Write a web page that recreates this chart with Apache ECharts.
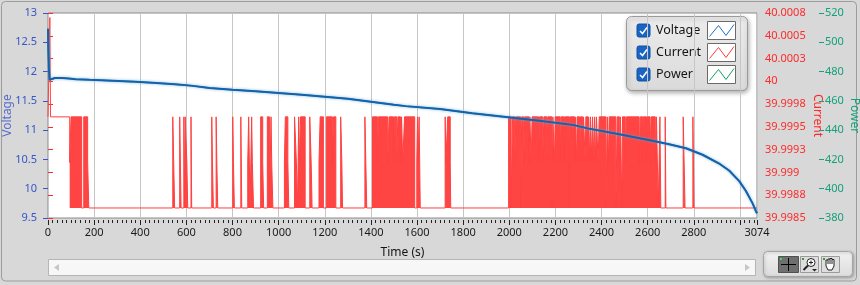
<!DOCTYPE html>
<html><head><meta charset="utf-8">
<script src="https://cdn.jsdelivr.net/npm/echarts@6/dist/echarts.min.js"></script>
<style>html,body{margin:0;padding:0;background:#ececec;}#c{width:860px;height:285px;}</style>
</head><body><div id="c"></div>
<script>
// ---------- data ----------
const timeMax = 3074;
const xTickLabels = [0,200,400,600,800,1000,1200,1400,1600,1800,2000,2200,2400,2600,2800,3074];
const voltageTickLabels = ['9.5','10','10.5','11','11.5','12','12.5','13'];
const currentTickLabels = ['39.9985','39.9988','39.999','39.9993','39.9995','39.9998','40','40.0003','40.0005','40.0008'];
const powerTickLabels = ['380','400','420','440','460','480','500','520'];

const voltageTime = [0,1,4,7,10,14,30,60,90,120,180,280,380,470,550,620,700,800,900,1000,1100,1200,1300,1400,1500,1551,1700,1840,1985,2130,2275,2340,2477,2620,2693,2766,2838,2910,2953,2997,3026,3055,3069,3074];
const voltage = [12.73,12.45,12.05,11.86,11.845,11.875,11.89,11.89,11.88,11.87,11.86,11.845,11.825,11.805,11.785,11.76,11.72,11.69,11.665,11.635,11.605,11.57,11.535,11.485,11.435,11.41,11.36,11.29,11.225,11.16,11.09,11.03,10.93,10.82,10.76,10.69,10.58,10.43,10.31,10.13,9.96,9.75,9.62,9.58];
const power = [509.2,498,482,474.4,473.8,475,475.6,475.6,475.2,474.8,474.4,473.8,473,472.2,471.4,470.4,468.8,467.6,466.6,465.4,464.2,462.8,461.4,459.4,457.4,456.4,454.4,451.6,449,446.4,443.6,441.2,437.2,432.8,430.4,427.6,423.2,417.2,412.4,405.2,398.4,390,384.8,383.2];

// current levels (A) and the time segments [start, end, level] where the current leaves the low level
const currentLow = 39.99861, currentMid = 39.99911, currentHigh = 39.99961, currentSpike = 40.0007;
const currentStart = [[0,8,'H'],[8,11,'S'],[11,94,'H']];
const currentSegments = [
[94,100,'M'],[100,146,'H'],[155,172,'H'],[172,177,'M'],
[541,545,'H'],[545,549,'M'],[571,577,'H'],[589,592,'H'],[595,602,'H'],[602,606,'M'],[620,623,'H'],
[710,713,'H'],[713,717,'M'],[729,732,'H'],[732,736,'M'],
[801,804,'H'],[804,808,'M'],[836,840,'H'],[866,870,'M'],[870,876,'H'],[883,886,'H'],[886,891,'M'],
[922,931,'H'],[931,935,'M'],[951,960,'H'],[967,970,'H'],[970,975,'M'],
[1025,1029,'M'],[1029,1040,'H'],[1040,1044,'M'],[1069,1077,'H'],[1077,1082,'M'],
[1087,1090,'H'],[1090,1095,'M'],[1095,1115,'H'],[1135,1141,'H'],[1141,1145,'M'],
[1175,1180,'M'],[1180,1194,'H'],[1207,1233,'H'],[1233,1238,'M'],[1238,1248,'H'],
[1269,1274,'H'],[1274,1277,'M'],[1374,1378,'H'],[1378,1382,'M'],
[1407,1428,'H'],[1428,1433,'M'],[1433,1473,'H'],[1473,1479,'M'],[1479,1498,'H'],[1498,1502,'M'],
[1502,1512,'H'],[1512,1517,'M'],[1517,1528,'H'],[1528,1533,'M'],[1533,1538,'H'],[1538,1546,'M'],[1546,1590,'H'],
[1599,1602,'M'],[1602,1605,'H'],[1605,1609,'M'],[1609,1614,'H'],
[1722,1725,'H'],[1725,1733,'M'],[1733,1744,'H'],[1744,1746,'M'],
[1997,2008,'H'],[2014,2024,'H'],[2024,2028,'M'],[2028,2049,'H'],[2054,2063,'H'],[2063,2067,'M'],[2067,2086,'H'],
[2086,2089,'M'],[2089,2095,'H'],[2095,2099,'M'],[2099,2127,'H'],[2127,2131,'M'],[2131,2145,'H'],[2145,2150,'M'],
[2150,2163,'H'],[2163,2167,'M'],[2167,2185,'H'],[2189,2196,'H'],[2196,2199,'M'],[2199,2221,'H'],[2221,2225,'M'],
[2225,2239,'H'],[2239,2242,'M'],[2242,2260,'H'],[2263,2283,'H'],[2283,2286,'M'],[2286,2292,'H'],[2292,2294,'M'],
[2294,2305,'H'],[2305,2309,'M'],[2309,2318,'H'],[2318,2322,'M'],[2322,2329,'H'],[2329,2332,'M'],[2332,2341,'H'],
[2341,2344,'M'],[2344,2349,'H'],[2349,2352,'M'],[2352,2358,'H'],[2358,2361,'M'],[2361,2367,'H'],[2367,2370,'M'],
[2370,2375,'H'],[2375,2378,'M'],[2378,2385,'H'],[2385,2390,'M'],[2390,2419,'H'],[2425,2430,'H'],[2430,2433,'M'],
[2433,2462,'H'],[2468,2477,'H'],[2477,2482,'M'],[2482,2488,'H'],[2491,2503,'H'],[2503,2508,'M'],[2508,2563,'H'],
[2563,2568,'M'],[2568,2578,'H'],[2578,2581,'M'],[2581,2595,'H'],[2595,2599,'M'],[2599,2610,'H'],[2610,2615,'M'],
[2615,2633,'H'],[2633,2638,'M'],[2638,2646,'H'],[2653,2657,'H'],[2676,2679,'H'],[2754,2762,'H'],[2796,2801,'H']
];

// ---------- build ----------
const levelOf = {H: currentHigh, M: currentMid, S: currentSpike};
function buildSteps(segs, endLow) {
  const pts = [];
  let prevEnd = null;
  segs.forEach(s => {
    if (prevEnd !== null && s[0] > prevEnd) pts.push([prevEnd, currentLow]);
    pts.push([s[0], levelOf[s[2]]]);
    prevEnd = s[1];
  });
  pts.push([prevEnd, currentLow]);
  if (endLow) pts.push([timeMax, currentLow]);
  return pts;
}
const currentLine = buildSteps(currentStart.concat(currentSegments), true);
const currentFill = buildSteps(currentSegments, false);
const voltageData = voltageTime.map((t, i) => [t, voltage[i]]);
const powerData = voltageTime.map((t, i) => [t, power[i]]);

const FONT = "'Noto Sans', Roboto, sans-serif";
const cVolt = '#3556c8', cCur = '#ff2a2a', cPow = '#14a07a';
const currentMin = 39.9985, currentStep = 0.00025;

const chart = echarts.init(document.getElementById('c'), null, {renderer: 'canvas'});

function grad(c0, c1) {
  return {type:'linear', x:0, y:0, x2:0, y2:1, colorStops:[{offset:0,color:c0},{offset:1,color:c1}]};
}

function legendRow(cy, label, color) {
  return [
    {type:'rect', shape:{x:637, y:cy-6.5, width:13, height:13, r:2}, style:{fill:'#1a64c4', stroke:'#1150a0', lineWidth:1}},
    {type:'polyline', shape:{points:[[640,cy+0.5],[642.5,cy+3],[647,cy-3]]}, style:{stroke:'#fff', lineWidth:1.5, fill:null}},
    {type:'text', x:656, y:cy, style:{text:label, fill:'#141414', font:"12.5px "+FONT, verticalAlign:'middle'}},
    {type:'rect', shape:{x:707.5, y:cy-9, width:28, height:18}, style:{fill:'#fff', stroke:'#6a6a6a', lineWidth:1}},
    {type:'polyline', shape:{points:[[709.5,cy+6],[718.5,cy-5],[726,cy+5],[734,cy-6]]}, style:{stroke:color, lineWidth:1, fill:null}}
  ];
}

const graphics = [
  {type:'rect', shape:{x:1.5, y:1.5, width:855, height:279.5, r:4}, style:{fill:null, stroke:'#9c9c9c', lineWidth:1}},
  // legend
  {type:'rect', shape:{x:626.5, y:16.5, width:121, height:74, r:5},
   style:{fill:grad('#ececec','#dadada'), stroke:'#9a9a9a', lineWidth:1,
          shadowBlur:4, shadowOffsetX:1, shadowOffsetY:2, shadowColor:'rgba(0,0,0,0.3)'}},
  ...legendRow(30.5, 'Voltage', '#1f6fc0'),
  ...legendRow(52.5, 'Current', '#ff3b3b'),
  ...legendRow(74.5, 'Power', '#10a060'),
  // scrollbar
  {type:'rect', shape:{x:48.5, y:259.5, width:707, height:16}, style:{fill:'#f7f7f7', stroke:'#b5b5b5', lineWidth:1}},
  {type:'polygon', shape:{points:[[54,267.5],[59,264],[59,271]]}, style:{fill:'#c6c6c6'}},
  {type:'polygon', shape:{points:[[750,267.5],[745,264],[745,271]]}, style:{fill:'#c6c6c6'}},
  // toolbar
  {type:'rect', shape:{x:763.5, y:251.5, width:89, height:25, r:4},
   style:{fill:grad('#f2f2f2','#dcdcdc'), stroke:'#a5a5a5', lineWidth:1,
          shadowBlur:3, shadowOffsetX:1, shadowOffsetY:1, shadowColor:'rgba(0,0,0,0.25)'}},
  {type:'rect', shape:{x:778.5, y:256.5, width:20, height:16}, style:{fill:'#6f6f6f', stroke:'#505050', lineWidth:1}},
  {type:'line', shape:{x1:781, y1:264.5, x2:796, y2:264.5}, style:{stroke:'#000', lineWidth:1}},
  {type:'line', shape:{x1:788.5, y1:258, x2:788.5, y2:271}, style:{stroke:'#000', lineWidth:1}},
  {type:'rect', shape:{x:780, y:258, width:2, height:2}, style:{fill:'#3ee03e'}},
  {type:'rect', shape:{x:800.5, y:256.5, width:18, height:16}, style:{fill:'#dedede', stroke:'#9a9a9a', lineWidth:1}},
  {type:'circle', shape:{cx:811, cy:262.5, r:4}, style:{fill:'#fff', stroke:'#222', lineWidth:1}},
  {type:'line', shape:{x1:808, y1:265.5, x2:803.5, y2:270}, style:{stroke:'#222', lineWidth:2}},
  {type:'line', shape:{x1:809, y1:262.5, x2:813, y2:262.5}, style:{stroke:'#222', lineWidth:1}},
  {type:'line', shape:{x1:811, y1:260.5, x2:811, y2:264.5}, style:{stroke:'#222', lineWidth:1}},
  {type:'polygon', shape:{points:[[812,269],[817,269],[814.5,271.5]]}, style:{fill:'#222'}},
  {type:'rect', shape:{x:802, y:258, width:2, height:2}, style:{fill:'#3a9a3a'}},
  {type:'rect', shape:{x:821.5, y:256.5, width:18, height:16}, style:{fill:'#dedede', stroke:'#9a9a9a', lineWidth:1}},
  {type:'polygon', shape:{points:[[826,266],[826,260],[828,260],[828,259],[830,259],[830,258.5],[832,258.5],[832,259.5],[834,259.5],[834,266],[832,270],[828,270]]},
   style:{fill:'#fff', stroke:'#222', lineWidth:1}},
  {type:'line', shape:{x1:828, y1:260, x2:828, y2:264}, style:{stroke:'#222', lineWidth:1}},
  {type:'line', shape:{x1:830, y1:259, x2:830, y2:264}, style:{stroke:'#222', lineWidth:1}},
  {type:'line', shape:{x1:832, y1:259.5, x2:832, y2:264}, style:{stroke:'#222', lineWidth:1}},
  {type:'rect', shape:{x:823, y:258, width:2, height:2}, style:{fill:'#3a9a3a'}}
];

const option = {
  animation: false,
  backgroundColor: '#d8d8d8',
  textStyle: {fontFamily: FONT},
  grid: {left:48, right:103, top:13, height:205, show:true, backgroundColor:'#ffffff', borderColor:'#8a8a8a', borderWidth:1,
         containLabel:false, outerBoundsMode:'none'},
  xAxis: [
    {type:'value', min:0, max:timeMax, interval:200, position:'bottom', offset:2,
     axisLine:{show:false}, axisTick:{show:true, length:5, lineStyle:{color:'#222'}},
     axisLabel:{margin:7, color:'#1a1a1a', fontSize:11, fontFamily:FONT, showMaxLabel:true, showMinLabel:true,
                formatter: v => xTickLabels.indexOf(v) >= 0 ? String(v) : ''},
     splitLine:{show:true, lineStyle:{color:'#c6c6c6', width:1}},
     name:'Time (s)', nameLocation:'middle', nameGap:27, nameMoveOverlap:false,
     nameTextStyle:{color:'#141414', fontSize:12, fontFamily:FONT}},
    {type:'value', min:0, max:timeMax, interval:20, position:'bottom', offset:2,
     axisLine:{show:false}, axisTick:{show:true, length:3, lineStyle:{color:'#222'}},
     axisLabel:{show:false}, splitLine:{show:false}}
  ],
  yAxis: [
    {type:'value', position:'left', min:9.5, max:13, interval:0.5, offset:3,
     axisLine:{show:false}, axisTick:{show:true, length:5, lineStyle:{color:cVolt}},
     axisLabel:{margin:8, color:cVolt, fontSize:11, fontFamily:FONT,
                formatter: v => voltageTickLabels[Math.round((v - 9.5) / 0.5)]},
     splitLine:{show:false},
     name:'Voltage', nameLocation:'middle', nameGap:31, nameMoveOverlap:false,
     nameTextStyle:{color:'#5a6ecb', fontSize:12, fontFamily:FONT}},
    {type:'value', position:'right', min:currentMin, max:40.00075, interval:currentStep, offset:2,
     axisLine:{show:false}, axisTick:{show:true, length:5, lineStyle:{color:cCur}},
     axisLabel:{margin:6, color:cCur, fontSize:11, fontFamily:FONT,
                formatter: v => currentTickLabels[Math.round((v - currentMin) / currentStep)]},
     splitLine:{show:false},
     name:'Current', nameLocation:'middle', nameRotate:-90, nameGap:52, nameMoveOverlap:false,
     nameTextStyle:{color:cCur, fontSize:12, fontFamily:FONT}},
    {type:'value', position:'right', min:380, max:520, interval:20, offset:62,
     axisLine:{show:false}, axisTick:{show:true, length:5, lineStyle:{color:cPow}},
     axisLabel:{margin:6, color:cPow, fontSize:11, fontFamily:FONT,
                formatter: v => powerTickLabels[Math.round((v - 380) / 20)]},
     splitLine:{show:false},
     name:'Power', nameLocation:'middle', nameRotate:-90, nameGap:29, nameMoveOverlap:false,
     nameTextStyle:{color:cPow, fontSize:12, fontFamily:FONT}}
  ],
  series: [
    {type:'line', name:'Current band', xAxisIndex:0, yAxisIndex:1, data:currentFill, step:'end', symbol:'none', silent:true,
     lineStyle:{width:0, opacity:0}, areaStyle:{color:'#ff4444', opacity:1, origin:currentLow}, z:2},
    {type:'line', name:'Current', xAxisIndex:0, yAxisIndex:1, data:currentLine, step:'end', symbol:'none',
     lineStyle:{color:'#ff4040', width:1}, z:3},
    {type:'line', name:'Power', xAxisIndex:0, yAxisIndex:2, data:powerData, symbol:'none',
     lineStyle:{color:'#10a060', width:1.5}, z:4},
    {type:'line', name:'Voltage', xAxisIndex:0, yAxisIndex:0, data:voltageData, symbol:'none',
     lineStyle:{color:'#1462ad', width:2, shadowColor:'rgba(110,165,215,0.8)', shadowBlur:3}, z:5}
  ],
  graphic: graphics
};
chart.setOption(option);
</script>
</body></html>
